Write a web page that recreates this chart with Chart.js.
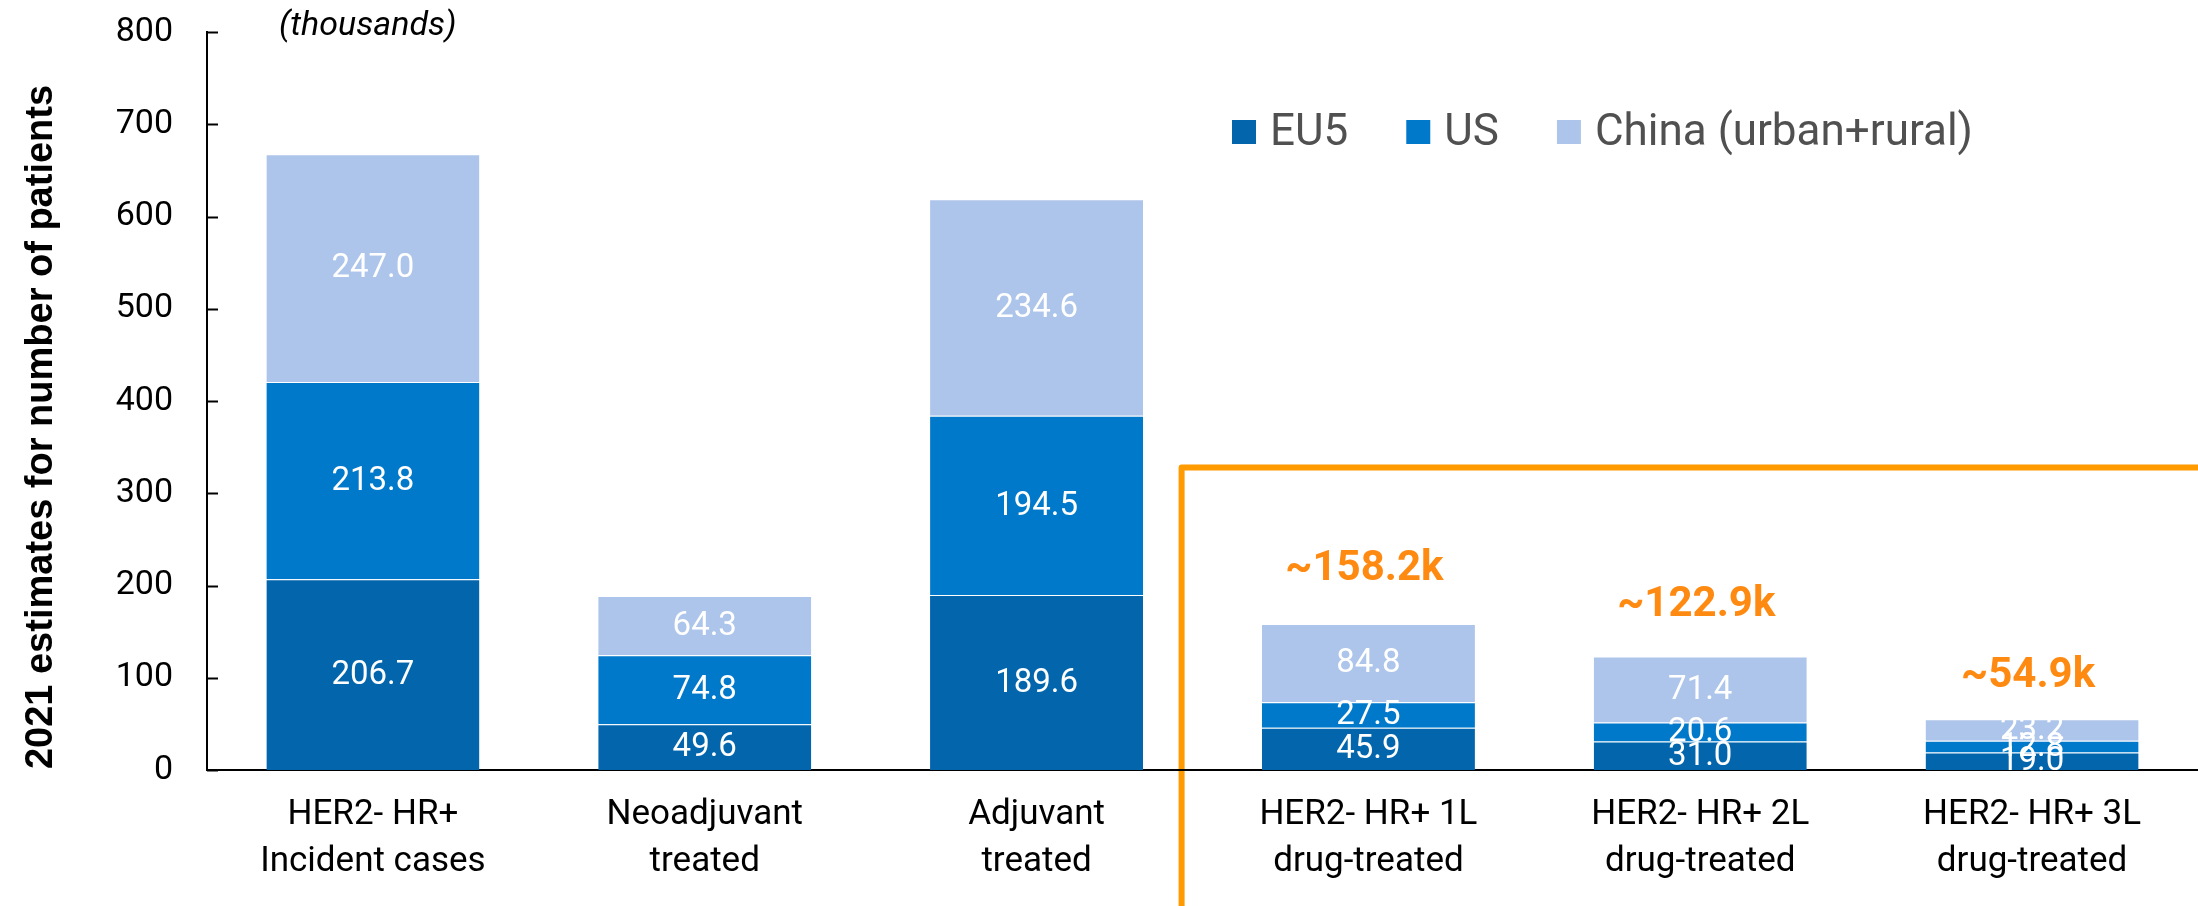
<!DOCTYPE html>
<html>
<head>
<meta charset="utf-8">
<script src="https://cdn.jsdelivr.net/npm/chart.js@4.4.1/dist/chart.umd.min.js"></script>
<style>
  html, body { margin: 0; padding: 0; background: #fff; }
  canvas { display: block; }
</style>
</head>
<body>
<canvas id="chart" width="2198" height="906"></canvas>
<script>
// categories (two-line labels)
const categories = [
  ['HER2- HR+', 'Incident cases'],
  ['Neoadjuvant', 'treated'],
  ['Adjuvant', 'treated'],
  ['HER2- HR+ 1L', 'drug-treated'],
  ['HER2- HR+ 2L', 'drug-treated'],
  ['HER2- HR+ 3L', 'drug-treated']
];

// values in thousands
const eu5Values = [206.7, 49.6, 189.6, 45.9, 31.0, 19.0];
const usValues = [213.8, 74.8, 194.5, 27.5, 20.6, 12.8];
const chinaValues = [247.0, 64.3, 234.6, 84.8, 71.4, 23.2];

// orange totals above the drug-treated bars
const totalLabels = ['', '', '', '~158.2k', '~122.9k', '~54.9k'];

const yTickValues = [0, 100, 200, 300, 400, 500, 600, 700, 800];

const seriesNames = ['EU5', 'US', 'China (urban+rural)'];
const seriesColors = ['#0366AD', '#0079CB', '#ADC5EA'];

const ORANGE = '#FF9A00';
const FONT = 'Roboto, "Liberation Sans", sans-serif';

// labels centred in every segment
const segmentLabels = {
  id: 'segmentLabels',
  afterDatasetsDraw(chart) {
    const ctx = chart.ctx;
    ctx.save();
    ctx.fillStyle = '#ffffff';
    ctx.font = '33px ' + FONT;
    ctx.textAlign = 'center';
    ctx.textBaseline = 'middle';
    chart.data.datasets.forEach((ds, i) => {
      const meta = chart.getDatasetMeta(i);
      meta.data.forEach((bar, j) => {
        const y = (bar.y + bar.base) / 2;
        ctx.fillText(ds.data[j].toFixed(1), bar.x, y + 1);
      });
    });
    ctx.restore();
  }
};

// orange "~xxx k" totals
const totalsPlugin = {
  id: 'totals',
  afterDatasetsDraw(chart) {
    const ctx = chart.ctx;
    const top = chart.getDatasetMeta(chart.data.datasets.length - 1);
    const base = chart.scales.y.getPixelForValue(0);
    ctx.save();
    ctx.fillStyle = '#FF8A12';
    ctx.font = 'bold 42px ' + FONT;
    ctx.textAlign = 'center';
    ctx.textBaseline = 'middle';
    totalLabels.forEach((t, i) => {
      if (!t) return;
      const bar = top.data[i];
      ctx.fillText(t, bar.x - 4, bar.y - 36 - 0.13 * (base - bar.y));
    });
    ctx.restore();
  }
};

// orange box around the drug-treated group, drawn under the axes
const boxPlugin = {
  id: 'orangeBox',
  beforeDraw(chart) {
    const ctx = chart.ctx;
    const x = chart.scales.x.getPixelForValue(2.437);
    const y = chart.scales.y.getPixelForValue(328);
    ctx.save();
    ctx.strokeStyle = ORANGE;
    ctx.lineWidth = 6;
    ctx.lineJoin = 'round';
    ctx.strokeRect(x, y, chart.width + 20 - x, chart.height + 20 - y);
    ctx.restore();
  }
};

// inward tick marks on the y axis, axis title, unit note, legend
const decorPlugin = {
  id: 'decor',
  afterDraw(chart) {
    const ctx = chart.ctx;
    const area = chart.chartArea;
    const yScale = chart.scales.y;
    ctx.save();

    ctx.strokeStyle = '#000';
    ctx.lineWidth = 2;
    yTickValues.forEach(v => {
      const y = Math.round(yScale.getPixelForValue(v)) + 0.5;
      ctx.beginPath();
      ctx.moveTo(area.left, y);
      ctx.lineTo(area.left + 11, y);
      ctx.stroke();
    });

    // y axis title
    ctx.save();
    ctx.translate(42, 427);
    ctx.rotate(-Math.PI / 2);
    ctx.fillStyle = '#000';
    ctx.font = 'bold 38px "Liberation Sans", Arial, sans-serif';
    ctx.textAlign = 'center';
    ctx.textBaseline = 'middle';
    ctx.fillText('2021 estimates for number of patients', 0, 0);
    ctx.restore();

    // unit note
    ctx.fillStyle = '#000';
    ctx.font = 'italic 34px ' + FONT;
    ctx.textAlign = 'left';
    ctx.textBaseline = 'middle';
    ctx.fillText('(thousands)', 279, 26);

    // legend
    ctx.font = '44px ' + FONT;
    let lx = 1232;
    const ly = 132;
    seriesNames.forEach((name, i) => {
      ctx.fillStyle = seriesColors[i];
      ctx.fillRect(lx, ly - 12, 24, 24);
      ctx.fillStyle = '#505050';
      ctx.fillText(name, lx + 38, ly + 2);
      lx += 38 + ctx.measureText(name).width + 58;
    });

    ctx.restore();
  }
};

const makeSet = (label, data, color) => ({
  label: label,
  data: data,
  backgroundColor: color,
  borderColor: 'rgba(255,255,255,0.25)',
  borderWidth: { top: 1 },
  borderSkipped: 'bottom',
  barPercentage: 0.642,
  categoryPercentage: 1.0
});

new Chart(document.getElementById('chart'), {
  type: 'bar',
  data: {
    labels: categories,
    datasets: [
      makeSet(seriesNames[0], eu5Values, seriesColors[0]),
      makeSet(seriesNames[1], usValues, seriesColors[1]),
      makeSet(seriesNames[2], chinaValues, seriesColors[2])
    ]
  },
  options: {
    responsive: false,
    animation: false,
    layout: { padding: { top: 32, right: 0, left: 0, bottom: 0 } },
    plugins: {
      legend: { display: false },
      tooltip: { enabled: false }
    },
    scales: {
      x: {
        stacked: true,
        grid: { display: false, drawTicks: false },
        border: { display: true, color: '#000', width: 2 },
        ticks: {
          color: '#000',
          padding: 22,
          font: { family: FONT, size: 35, lineHeight: 1.34 }
        },
        afterFit: s => { s.height = 136; }
      },
      y: {
        stacked: true,
        min: 0,
        max: 800,
        afterBuildTicks: s => { s.ticks = yTickValues.map(v => ({ value: v })); },
        grid: { display: false, drawTicks: false },
        border: { display: true, color: '#000', width: 2 },
        ticks: {
          color: '#000',
          padding: 34,
          font: { family: FONT, size: 34 }
        },
        // fixed axis width; the top label may overflow into the layout padding
        afterFit: s => { s.width = 207; s.paddingTop = 0; s.paddingBottom = 0; }
      }
    }
  },
  plugins: [boxPlugin, segmentLabels, totalsPlugin, decorPlugin]
});
</script>
</body>
</html>
